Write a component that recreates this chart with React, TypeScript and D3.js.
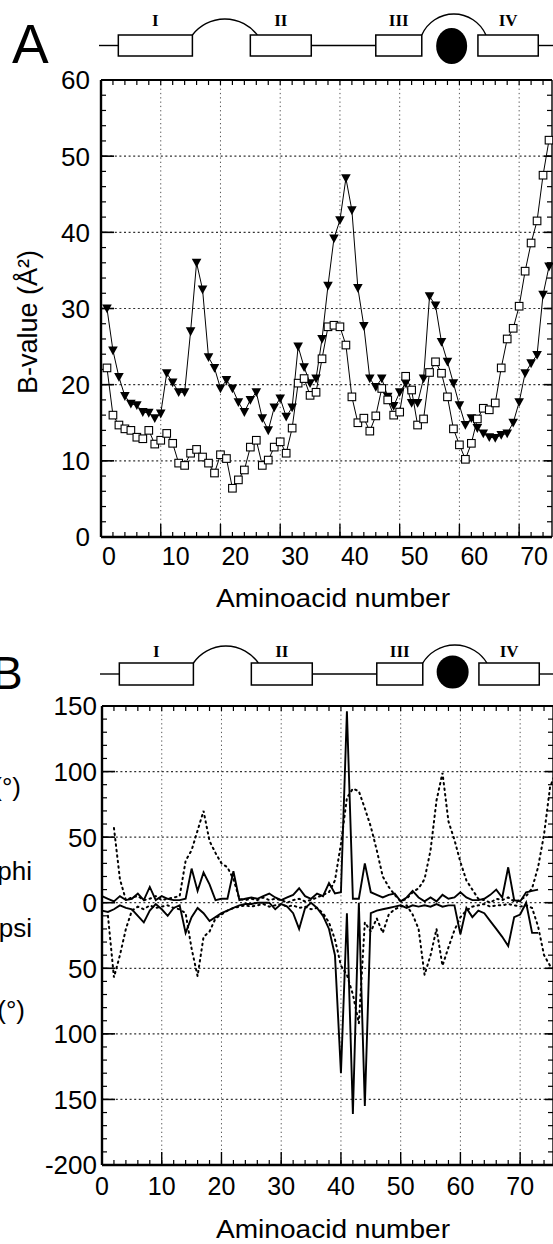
import React from 'react';
import * as d3 from 'd3';

const FONT = '"Liberation Sans", Arial, Helvetica, sans-serif';
const SERIF = '"Liberation Serif", "Times New Roman", serif';

// ---- Panel A: B-values per residue ----
const residuesA = d3.range(1, 76);
const bFilled = [30, 24.5, 21, 18.5, 17.5, 17.3, 16.4, 16.3, 15.6, 16.2, 21.5, 20.3, 19, 19, 27, 36, 32.5, 23.6, 22.2, 19.5,
  20.6, 19.5, 17.7, 16.4, 18, 19, 15.6, 14, 17, 18.2, 15.8, 17, 25, 22.3, 20.2, 20.8, 26, 33, 39.2, 41.6,
  47.1, 42.9, 32.7, 27.7, 20.8, 19.7, 20.8, 18.4, 17.2, 19, 20.2, 17.6, 17.6, 20.8, 31.6, 30.4, 25.6, 23, 20.2, 17.3,
  14.7, 15.6, 14.3, 13.6, 13.1, 13, 13.4, 13.6, 15, 17.7, 21.5, 22.8, 23.9, 31.8, 35.5];
const bOpen = [22.2, 16, 14.7, 14.2, 14, 13.1, 12.9, 14, 12.2, 12.7, 13.6, 12.3, 9.7, 9.4, 11, 11.5, 10.5, 9.7, 8.4, 10.8,
  10.3, 6.4, 7.5, 8.8, 11.8, 12.7, 9.4, 10.1, 11.8, 12.5, 11, 14.3, 20.2, 20.8, 18.6, 19, 23.4, 27.6, 27.8, 27.6,
  25.2, 18.4, 15, 15.6, 13.9, 15.9, 19.5, 18, 16, 16.4, 21.1, 19.3, 14.7, 15.5, 21.6, 23, 21.5, 18.4, 14.2, 12.1,
  10.2, 12.3, 15.5, 16.9, 16.7, 17.6, 22.2, 26, 27.4, 30.3, 34.9, 38.6, 41.5, 47.5, 52.1];

// ---- Panel B: phi / psi differences per residue ----
const residuesB = d3.range(0, 77);
const phiSolid = [5, 3, 1, 5, 2, 3, 7, 2, 12, 2, 5, 3, 2, 2, 3, 26, 9, 23, 14, 2,
  3, 3, 24, 2, 3, 4, 3, 5, 7, 4, 2, 4, 6, 11, 5, 3, 7, 5, 15, 7,
  8, 146, 3, 3, 30, 8, 6, 4, 6, 7, 1, 4, 9, 4, 1, 4, 1, 6, 3, 4,
  8, 4, 2, 2, 3, 6, 10, 4, 27, 2, 1, 8, 9, 10, null, null, null];
const psiSolid = [-6, -7, -5, -2, -4, -5, -10, -15, -6, -1, -5, -10, -4, -2, -23, -11, -4, -8, -14, -11,
  -8, -6, -4, -2, -1, -1, 0, 0, 0, -5, -1, -3, -8, -20, -4, 0, -4, -10, -20, -40,
  -130, -8, -161, 0, -155, -8, -6, -5, -4, -3, -2, -4, -2, -3, -2, -3, -1, -3, -2, -2,
  -24, -4, -11, -6, -8, -14, -20, -26, -33, -11, -9, 0, -23, -23, null, null, null];
const phiDotted = [null, null, 57, 18, 2, 4, 5, 2, 3, 5, 2, 3, 4, 5, 32, 40, 55, 70, 47, 38,
  30, 27, 18, 3, 2, 3, 2, 4, 2, 3, 2, 0, 2, 3, 1, 2, 4, 6, 8, 17,
  45, 80, 87, 85, 72, 58, 40, 20, 12, 6, 1, 3, 8, 11, 18, 40, 78, 99, 62, 48,
  31, 17, 10, 3, 2, 0, 3, 2, 4, 1, 2, 5, 11, 27, 52, 88, 100];
const psiDotted = [null, -10, -57, -40, -20, -6, -3, -5, -2, -4, -3, -2, -4, -5, -8, -35, -56, -26, -22, -12,
  -9, -6, -4, -3, -2, -3, -2, -1, -3, -2, -1, -3, -2, -4, -3, -5, -4, -8, -15, -28,
  -48, -55, -70, -92, -15, -22, -12, -23, -9, -5, -3, -2, -9, -20, -55, -40, -20, -48, -34, -21,
  -11, -6, -3, -2, -1, -3, -2, -2, -1, -2, -3, -2, -4, -18, -40, -48, -50];

const xTicks = [0, 10, 20, 30, 40, 50, 60, 70];
const yTicksA = [0, 10, 20, 30, 40, 50, 60];
const yTicksB = [150, 100, 50, 0, -50, -100, -150, -200];
const yLabelsB = ['150', '100', '50', '0', '50', '100', '150', '-200'];

// secondary structure schematic (residue ranges)
const helices = [
  { name: 'I', start: 2.9, end: 15.3 },
  { name: 'II', start: 25, end: 35.2 },
  { name: 'III', start: 46, end: 53.7 },
  { name: 'IV', start: 63.1, end: 73.2 },
];
const metalSite = 58.7;

type Lin = d3.ScaleLinear<number, number>;

function Axes(props: {
  x: Lin; y: Lin; minorY: number[]; yTicks: number[]; yLabels: string[];
  labelEnd: number; centerX: boolean; xLabelY: number;
}) {
  const { x, y, minorY, yTicks, yLabels, labelEnd, centerX, xLabelY } = props;
  const [left, right] = x.range();
  const [bottom, top] = y.range();
  const minorX = d3.range(2, 76, 2);
  return (
    <g stroke="#000" fill="none">
      {xTicks.filter((t) => t > 0).map((t) => (
        <line key={'gx' + t} x1={x(t)} x2={x(t)} y1={top} y2={bottom} stroke="#555" strokeWidth={1} strokeDasharray="1.3,3" />
      ))}
      {yTicks.filter((t) => y(t) > top + 2 && y(t) < bottom - 2).map((t) => (
        <line key={'gy' + t} x1={left} x2={right} y1={y(t)} y2={y(t)} stroke="#333" strokeWidth={1.2} strokeDasharray="2,2.6" />
      ))}
      {minorX.map((t) => (
        <g key={'mx' + t}>
          <line x1={x(t)} x2={x(t)} y1={bottom} y2={bottom - 5} strokeWidth={1.2} />
          <line x1={x(t)} x2={x(t)} y1={top} y2={top + 5} strokeWidth={1.2} />
        </g>
      ))}
      {xTicks.map((t) => (
        <line key={'Mx' + t} x1={x(t)} x2={x(t)} y1={bottom} y2={bottom - 13} strokeWidth={1.4} />
      ))}
      {minorY.map((t) => (
        <g key={'my' + t}>
          <line x1={left} x2={left + 5} y1={y(t)} y2={y(t)} strokeWidth={1.2} />
          <line x1={right} x2={right - 5} y1={y(t)} y2={y(t)} strokeWidth={1.2} />
        </g>
      ))}
      {yTicks.map((t) => (
        <g key={'My' + t}>
          <line x1={left} x2={left + 13} y1={y(t)} y2={y(t)} strokeWidth={1.6} />
          <line x1={right} x2={right - 8} y1={y(t)} y2={y(t)} strokeWidth={1.6} />
        </g>
      ))}
      <line x1={left} x2={right} y1={top} y2={top} strokeWidth={1.8} />
      <line x1={left} x2={right} y1={bottom} y2={bottom} strokeWidth={2.4} />
      <line x1={left} x2={left} y1={top} y2={bottom} strokeWidth={2.4} />
      <line x1={right} x2={right} y1={top} y2={bottom} strokeWidth={1.4} />
      <g stroke="none" fill="#000" fontFamily={FONT}>
        {yTicks.map((t, i) => (
          <text key={'ly' + t} x={labelEnd} y={y(t)} dy="0.36em" fontSize={26} textAnchor="end">{yLabels[i]}</text>
        ))}
        {xTicks.map((t) => (
          <text key={'lx' + t} x={centerX ? x(t) : x(t) + 1} y={xLabelY} fontSize={25}
            textAnchor={centerX ? 'middle' : 'start'}>{t}</text>
        ))}
      </g>
    </g>
  );
}

function Schematic({ x, top, bottom, labelY, arcRise, circle }: {
  x: Lin; top: number; bottom: number; labelY: number; arcRise: [number, number];
  circle: { cy: number; rx: number; ry: number };
}) {
  const mid = (top + bottom) / 2;
  const [h1, h2, h3, h4] = helices;
  const arc = (x1: number, x2: number, s: number) => {
    const w = (x2 - x1) / 2;
    const r = (w * w + s * s) / (2 * s);
    return `M${x1},${top} A${r},${r} 0 0 1 ${x2},${top}`;
  };
  return (
    <g stroke="#000" fill="none" strokeWidth={1.4}>
      <line x1={x(0) - 2} x2={x(h1.start)} y1={mid} y2={mid} />
      <line x1={x(h2.end)} x2={x(h3.start)} y1={mid} y2={mid} />
      <line x1={x(h4.end)} x2={553} y1={mid} y2={mid} />
      <path d={arc(x(h1.end), x(h2.start) + 7, arcRise[0])} />
      <path d={arc(x(h3.end), x(h4.start) + 8, arcRise[1])} />
      {helices.map((h) => (
        <rect key={h.name} x={x(h.start)} y={top} width={x(h.end) - x(h.start)} height={bottom - top} fill="#fff" strokeWidth={1.5} />
      ))}
      <ellipse cx={x(metalSite)} cy={circle.cy} rx={circle.rx} ry={circle.ry} fill="#000" stroke="none" />
      {helices.map((h) => (
        <text key={'t' + h.name} x={(x(h.start) + x(h.end)) / 2} y={labelY} textAnchor="middle" fontFamily={SERIF}
          fontWeight="bold" fontSize={17} fill="#000" stroke="none">{h.name}</text>
      ))}
    </g>
  );
}

export default function App() {
  const xA = d3.scaleLinear().domain([0, 75.5]).range([101, 552]);
  const yA = d3.scaleLinear().domain([0, 60]).range([537, 80]);
  const xB = d3.scaleLinear().domain([0, 75.5]).range([102, 553]);
  const yB = d3.scaleLinear().domain([-200, 150]).range([1165, 706]);

  const lineA = (vals: number[]) =>
    d3.line<number>().x((_, i) => xA(residuesA[i])).y((d) => yA(d))(vals) || '';
  const lineB = (vals: (number | null)[]) =>
    d3.line<number | null>()
      .defined((d) => d != null)
      .x((_, i) => xB(residuesB[i]))
      .y((d) => yB(d as number))(vals) || '';

  const tri = (cx: number, cy: number) => `M${cx - 4.8},${cy - 4}L${cx + 4.8},${cy - 4}L${cx},${cy + 4.8}Z`;

  return (
    <svg width={553} height={1244} style={{ position: 'absolute', left: 0, top: 0, background: '#fff' }}>
      <rect width={553} height={1244} fill="#fff" />

      {/* ---------- Panel A ---------- */}
      <text x={12} y={63} fontFamily={FONT} fontSize={55}>A</text>
      <Schematic x={xA} top={35} bottom={56} labelY={26} arcRise={[16, 21]} circle={{ cy: 46, rx: 15.5, ry: 18 }} />
      <Axes x={xA} y={yA} minorY={d3.range(0, 61, 2)} yTicks={yTicksA} yLabels={yTicksA.map(String)}
        labelEnd={90} centerX={false} xLabelY={565} />
      <text transform="translate(37,322) rotate(-90)" textAnchor="middle" fontFamily={FONT} fontSize={27}>B-value (Å²)</text>
      <text x={333} y={607} textAnchor="middle" fontFamily={FONT} fontSize={25} textLength={234} lengthAdjust="spacingAndGlyphs">Aminoacid number</text>

      <path d={lineA(bFilled)} fill="none" stroke="#000" strokeWidth={1} />
      <path d={lineA(bOpen)} fill="none" stroke="#000" strokeWidth={1} />
      {bFilled.map((v, i) => (
        <path key={'t' + i} d={tri(xA(residuesA[i]), yA(v))} fill="#000" />
      ))}
      {bOpen.map((v, i) => (
        <rect key={'s' + i} x={xA(residuesA[i]) - 3.8} y={yA(v) - 3.8} width={7.6} height={7.6} fill="#fff" stroke="#000" strokeWidth={1.1} />
      ))}

      {/* ---------- Panel B ---------- */}
      <text x={-8} y={689} fontFamily={FONT} fontSize={46}>B</text>
      <Schematic x={xB} top={663} bottom={685} labelY={657} arcRise={[17, 18]} circle={{ cy: 672, rx: 16, ry: 16.5 }} />
      <Axes x={xB} y={yB} minorY={d3.range(-200, 151, 10)} yTicks={yTicksB} yLabels={yLabelsB}
        labelEnd={97} centerX={true} xLabelY={1195} />
      <g fontFamily={FONT} fontSize={26} textAnchor="end">
        <text x={21} y={796}>(°)</text>
        <text x={32} y={880}>phi</text>
        <text x={32} y={937}>psi</text>
        <text x={25} y={1019}>(°)</text>
      </g>
      <text x={333} y={1238} textAnchor="middle" fontFamily={FONT} fontSize={25} textLength={234} lengthAdjust="spacingAndGlyphs">Aminoacid number</text>

      <path d={lineB(phiDotted)} fill="none" stroke="#000" strokeWidth={2} strokeDasharray="1.5,4" strokeLinecap="round" />
      <path d={lineB(psiDotted)} fill="none" stroke="#000" strokeWidth={2} strokeDasharray="1.5,4" strokeLinecap="round" />
      <path d={lineB(phiSolid)} fill="none" stroke="#000" strokeWidth={1.9} />
      <path d={lineB(psiSolid)} fill="none" stroke="#000" strokeWidth={1.9} />
    </svg>
  );
}
